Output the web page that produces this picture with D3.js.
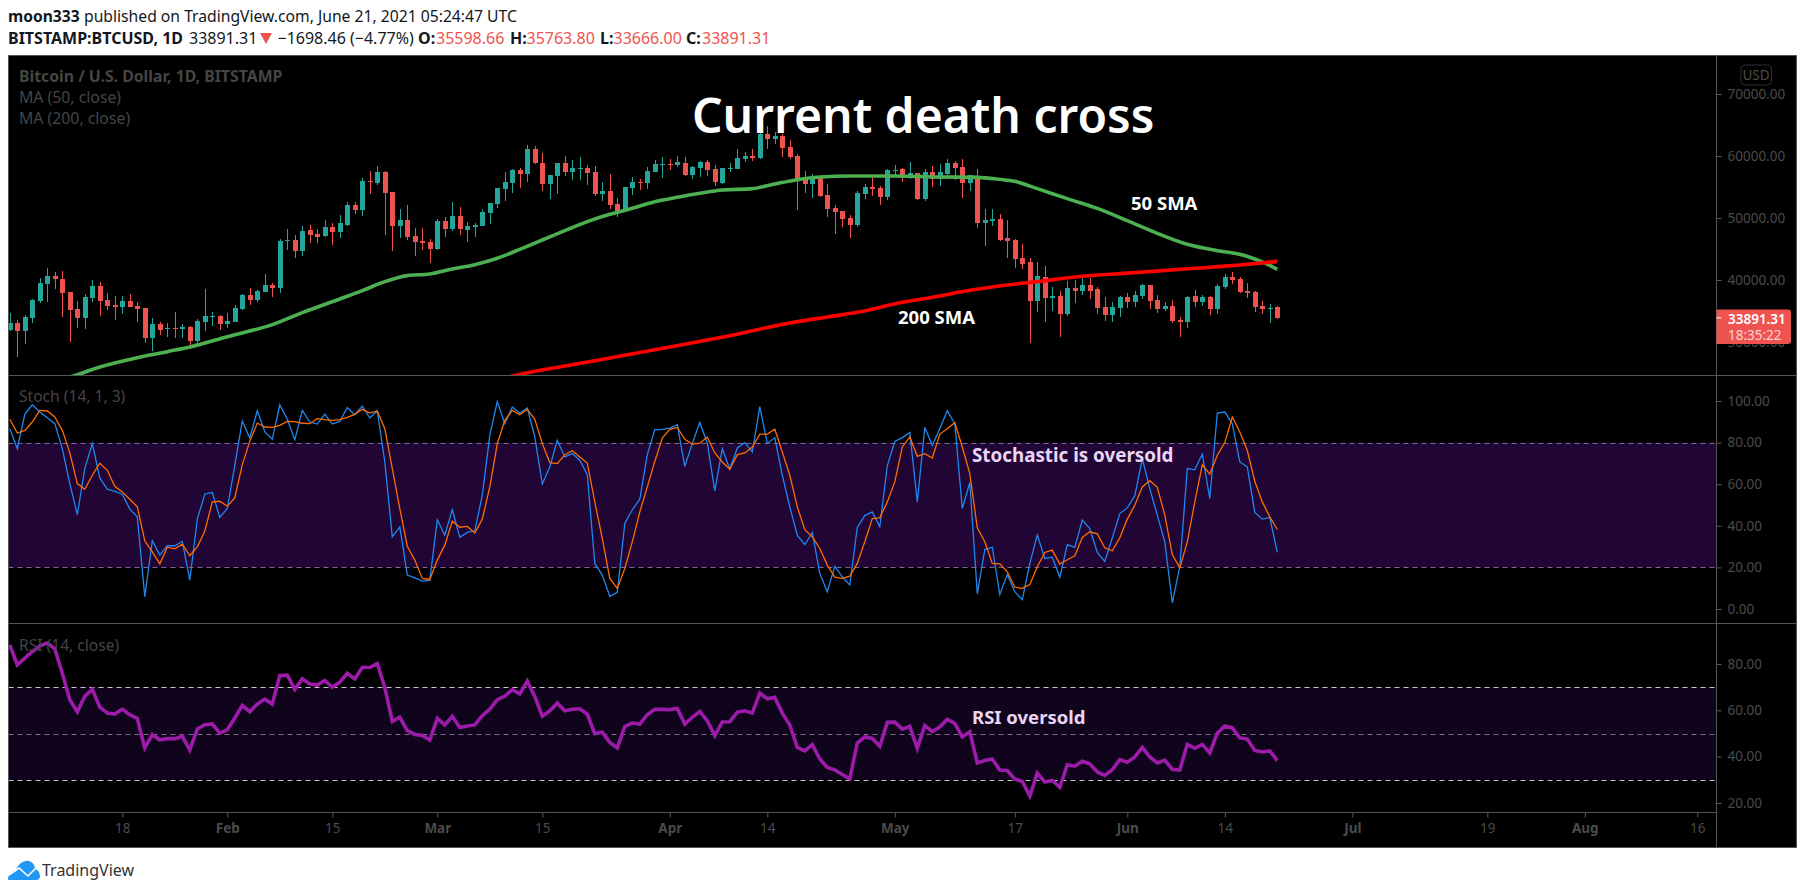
<!DOCTYPE html>
<html><head><meta charset="utf-8">
<script src="https://cdn.jsdelivr.net/npm/d3@7"></script>
<style>
html,body{margin:0;padding:0;background:#fff}
svg{display:block}
text{font-family:"Noto Sans",sans-serif}
.tick text{fill:#4b4b4b;font-size:13.5px;font-family:"Noto Sans",sans-serif}
.tick line{stroke:#5a5a5a}
.domain{display:none}
</style></head><body>
<svg id="c" width="1805" height="894"></svg>
<script>
const firstDay = "2021-01-03";
const open = [31940,33120,31830,33930,36670,39360,40650,40110,38070,35270,33930,37150,39030,36780,35970,35700,36560,35810,35490,30650,32910,32050,32260,32150,32370,30170,33280,34090,34200,32910,33230,35330,37530,36780,38070,39200,38710,46350,46450,44680,48070,47420,47100,48500,47740,48870,52100,51290,55970,55650,57420,54200,48710,49680,47100,46350,46130,45000,49520,
48170,50320,48070,48600,48710,50810,52260,54680,55650,57740,57100,61130,58870,55480,56780,58870,57420,57900,58070,57420,53870,54360,52260,51130,54840,55810,55650,57420,58550,58710,58550,58870,56940,58070,59030,57900,55650,57900,57900,59520,60000,59680,63550,62740,63230,61450,60000,56290,55480,56450,53710,51610,51130,50000,48870,53870,55000,54840,53390,57580,
57900,56450,57260,53070,57420,56290,57100,58870,58230,55650,56780,49200,49570,49840,46780,46450,43550,42900,36620,40490,37100,37420,34520,38710,38230,39200,38550,35650,34360,35490,37260,36450,37420,39200,36780,35320,35810,33550,33230,37420,36450,37260,35320,38870,40490,40160,38170,38070,35810,35380,35598.66];
const high = [34630,33550,34360,36880,40270,41990,41350,41510,38120,36620,37750,40000,39630,37850,37480,37420,37750,36400,35490,33870,33280,33120,34840,32910,32580,33710,38550,34790,34360,34630,35970,37750,38660,38390,40970,39470,46620,48280,47260,48710,48870,48170,49680,49140,50490,52580,52640,56400,57580,58390,57580,54200,51450,52100,48340,48390,46620,49840,50220,
52580,51780,49360,49200,51400,52420,54840,57420,57900,58070,61770,61610,60480,56940,58870,60000,59360,59840,58550,58390,55810,57100,53230,55000,56610,56290,58280,59300,59840,59520,60000,59840,58390,59190,59360,58550,58070,58820,61130,60650,61130,64190,64840,63870,63550,62580,60320,57580,57100,56780,55480,52100,51130,50490,54360,55480,56450,55160,57900,58550,
58010,59030,57310,57900,58390,58710,59520,59190,59520,56940,57900,51450,51450,50650,49680,46610,45810,43550,42900,42260,38870,38230,39840,40000,40810,40320,38870,37260,36450,37420,37910,38230,39360,39200,37580,36450,36780,34030,37420,38390,37580,37420,39360,40970,41290,40490,39520,38230,36620,36130,35763.80];
const low = [31830,27640,29680,33120,36240,36510,38610,34090,30060,32260,32100,36510,34250,35160,33550,34520,35700,33280,29900,28550,31130,30860,30600,30600,28870,29790,31830,32580,31940,32210,33230,35160,35970,36510,38070,37320,37960,44840,43610,43930,46020,46020,46880,45650,46830,48770,50650,50330,53870,55320,47260,44730,46780,46450,43870,44840,42800,44840,46880,
47960,47260,46130,46940,48710,49030,51610,52740,54030,54840,55810,58710,54360,53070,53870,56780,56130,56130,55320,53550,52740,51450,50220,50970,53710,54520,54680,57420,56450,57740,58230,56780,56290,56610,56780,55160,55480,57420,57900,59030,59190,59520,61130,61940,59840,59520,51290,54030,53230,53390,50160,47420,48550,46780,48550,53070,53550,52100,52900,56940,
55810,56290,52900,52740,55000,55160,56940,56130,53230,54360,48390,45490,48710,46290,43550,41940,41780,29840,34840,33230,35000,30810,34200,36290,37580,36940,34520,33390,33230,34030,35490,35650,36940,35320,34680,35000,33070,30810,32260,35650,35810,34360,34520,38550,39360,37910,37100,34840,34520,33070,33666.00];
const close = [33120,31830,34090,36780,39470,40650,40110,37960,35160,33870,37210,39030,36620,35810,35700,36560,35700,35330,30650,32910,31940,32260,32050,32370,30170,33390,34200,34250,32910,33390,35490,37640,36780,38180,39200,38710,46290,46450,44680,47850,47260,46940,48500,47740,49140,52100,51290,56020,55810,57420,54090,48710,49680,46940,46130,46020,45000,49520,48280,
50320,48230,48760,48870,50970,52420,54840,55810,57740,57100,61130,58870,55480,56940,58870,57420,58070,58070,57260,53870,54360,52100,51130,55000,55810,55650,57580,58710,58710,58550,59030,56940,58230,59030,57740,55810,58070,58070,59680,60000,59680,63600,62740,63230,61290,59840,56130,55480,56450,53550,51450,50970,49840,48870,54030,55000,54680,53390,57740,57740,
56450,57260,53070,57420,56350,57420,58870,58070,55650,56940,49200,49680,49840,46450,46290,43390,42580,36620,40650,37100,37420,34520,38710,38230,39200,38230,35490,34360,35650,37260,36450,37580,39200,36620,35320,35810,33390,33230,37260,36450,37260,35320,39030,40490,40000,38070,37910,35650,35320,35490,33891.31];
const ma50Days = [8,9,12,17,21,24,29,35,39,44,47,50,53,56,59,62,65,68,71,74,77,80,83,86,89,92,95,99,102,105,108,112,118,124,129,132,134,137,141,145,149,153,157,161,164,166,168,169];
const ma50 = [24360,24735,25971,27477,28444,29196,30863,32798,34734,36938,38282,39733,40701,40970,41776,42475,43496,44948,46453,47958,49410,50592,51560,52636,53334,53979,54517,54732,55484,56183,56613,56775,56775,56613,56560,56237,55914,54732,53119,51560,49571,47528,45753,44732,44141,43388,42367,41722];
const ma200Days = [66,67,74,82,90,96,104,109,113,119,123,128,133,137,142,150,158,163,169];
const ma200 = [24200,24519,26131,27851,29626,31024,33067,34034,34786,36400,37206,38335,39195,39733,40485,41184,41883,42313,43012];
const stochK = [86.7,77.1,93.6,98.2,94.7,92.0,89.1,77.1,60.3,45.4,67.5,79.5,63.0,57.6,56.5,55.2,48.0,44.3,5.9,32.9,25.9,30.5,30.4,32.5,13.9,43.2,55.3,56.0,44.0,48.3,69.1,90.4,82.2,95.3,85.1,81.6,98.2,91.2,81.3,95.5,89.9,88.9,93.7,88.9,90.2,96.9,93.4,97.6,91.8,95.3,70.7,34.7,39.5,16.3,15.0,13.4,13.9,42.9,35.5,
47.8,34.5,36.8,37.6,54.7,83.5,99.8,89.1,97.1,94.1,96.6,82.7,60.1,68.3,81.1,73.1,74.7,71.5,64.6,21.9,16.3,6.1,8.0,41.1,47.7,52.8,74.2,86.2,86.4,87.0,88.6,68.6,79.5,89.7,79.7,56.8,77.1,67.2,77.4,80.0,75.5,97.3,79.5,82.4,64.3,49.1,35.5,30.9,36.8,17.1,8.3,20.5,15.5,11.5,39.2,44.9,46.7,39.5,68.8,80.6,
82.4,84.9,51.5,87.3,78.7,86.7,95.3,89.1,48.3,60.8,7.3,28.6,29.7,7.0,16.6,8.3,4.5,21.9,35.5,24.3,24.9,15.3,31.0,29.6,42.7,38.7,27.2,22.9,34.2,45.9,48.6,54.4,72.3,57.9,45.1,32.3,3.0,20.3,67.5,66.9,74.5,53.1,94.2,94.7,89.1,70.7,68.3,46.4,43.2,44.0,27.2];
const stochD = [91.2,84.6,85.9,89.9,95.5,95.2,92.3,85.9,75.2,60.3,57.6,64.3,70.1,66.7,59.0,56.3,52.8,49.1,32.8,27.5,21.7,29.7,28.9,31.2,25.6,29.9,37.4,51.5,51.8,49.4,53.4,69.4,80.6,89.4,87.5,87.3,88.3,90.2,90.1,89.3,89.1,91.5,91.0,90.7,91.0,92.1,93.6,96.0,94.2,95.2,86.7,67.5,48.3,30.2,23.5,14.7,14.2,23.5,30.7,
42.2,39.3,39.7,36.6,43.2,58.7,79.5,90.7,95.5,93.4,96.0,91.2,79.5,70.4,69.9,74.2,76.1,73.1,70.2,51.5,33.9,14.7,9.9,19.5,32.3,46.7,58.7,71.0,82.2,86.4,87.3,81.6,79.3,79.7,82.7,75.0,70.7,67.2,74.2,75.0,77.9,84.1,84.1,86.4,75.5,64.3,49.1,38.1,34.7,29.1,21.1,15.3,14.7,15.8,21.9,32.3,43.5,43.8,51.5,61.1,
77.9,82.7,73.4,74.7,72.6,84.1,86.7,89.6,77.9,65.1,39.0,32.3,21.9,21.7,17.9,10.5,9.9,11.8,20.3,27.2,28.3,21.6,23.7,25.6,34.4,37.1,36.1,29.4,28.0,34.2,43.2,49.9,58.7,61.7,58.5,45.1,26.2,19.8,32.3,51.5,69.4,64.8,73.9,80.0,92.3,85.1,76.3,61.4,51.5,44.3,38.2];
const rsi = [88.2,79.6,82.5,85.3,87.8,89.0,86.5,76.0,64.6,59.4,66.0,69.1,61.4,58.8,58.4,60.5,58.1,56.5,43.8,49.5,47.3,47.8,47.8,48.8,42.8,52.0,53.8,54.1,50.2,51.6,56.7,62.1,59.4,62.7,64.8,62.7,75.0,75.2,69.1,73.6,71.4,70.9,72.9,70.0,72.2,76.0,73.6,78.6,78.5,80.2,69.9,55.2,57.0,51.2,49.6,49.2,47.2,56.5,53.7,
57.4,52.6,53.2,53.7,57.7,60.5,64.6,66.1,68.9,67.1,72.6,66.0,57.5,59.8,63.1,59.8,60.5,60.7,58.4,49.9,50.6,46.1,43.8,53.0,54.5,54.1,58.1,60.4,60.4,60.3,60.8,54.1,57.0,59.5,55.5,49.1,55.0,55.1,59.2,59.8,58.8,67.4,65.0,65.6,58.8,53.7,44.0,42.5,45.2,39.0,35.3,34.3,32.3,30.4,45.9,48.5,47.9,44.5,54.8,54.9,
51.9,53.1,43.6,53.4,50.8,52.8,56.2,54.4,48.5,50.8,37.3,38.3,39.0,34.2,34.0,30.3,29.3,23.0,32.9,29.1,29.7,26.8,36.5,35.9,38.0,36.9,33.4,31.9,34.4,38.7,37.6,39.9,44.0,39.9,37.3,38.5,34.6,34.2,45.3,43.6,45.3,41.6,50.2,53.2,52.4,48.1,47.6,42.7,42.0,42.5,38.3];
const priceTicks = [70000,60000,50000,40000,30000];
const stochTicks = [100,80,60,40,20,0];
const rsiTicks = [80,60,40,20];
const stochLevels = [80,20];
const rsiLevels = [70,50,30];
const timeLabels = [["2021-01-18","18",0],["2021-02-01","Feb",1],["2021-02-15","15",0],["2021-03-01","Mar",1],["2021-03-15","15",0],["2021-04-01","Apr",1],["2021-04-14","14",0],["2021-05-01","May",1],["2021-05-17","17",0],["2021-06-01","Jun",1],["2021-06-14","14",0],["2021-07-01","Jul",1],["2021-07-19","19",0],["2021-08-01","Aug",1],["2021-08-16","16",0]];

const svg = d3.select("#c");
const L=8.5,R=1796.5,AX=1716.5,T=55.5,B=847.5,P1=375.5,P2=623.5,P3=812.5;
const parse=d3.utcParse("%Y-%m-%d");
const day0=parse(firstDay);
const dayOf=i=>d3.utcDay.offset(day0,i);
const x=d3.scaleUtc().domain([parse("2021-01-18"),parse("2021-08-16")]).range([122.3,1697.3]);
const yP=d3.scaleLinear().domain([30000,70000]).range([342,94]);
const yS=d3.scaleLinear().domain([0,100]).range([609,401]);
const yR=d3.scaleLinear().domain([20,80]).range([803,664]);
const ix=i=>Math.round(x(dayOf(i)));
const defs=svg.append("defs");
[["p1",T,P1],["p2",P1,P2],["p3",P2,P3]].forEach(([id,a,b])=>defs.append("clipPath").attr("id",id).append("rect").attr("x",L).attr("y",a).attr("width",AX-L).attr("height",b-a));
svg.append("rect").attr("x",L).attr("y",T).attr("width",R-L).attr("height",B-T).attr("fill","#000");

// bands
svg.append("rect").attr("x",L).attr("width",AX-L).attr("y",yS(80)).attr("height",yS(20)-yS(80)).attr("fill","#200535");
svg.append("rect").attr("x",L).attr("width",AX-L).attr("y",yR(70)).attr("height",yR(30)-yR(70)).attr("fill","#10041c");
stochLevels.forEach(v=>svg.append("line").attr("x1",L).attr("x2",AX).attr("y1",Math.round(yS(v))+.5).attr("y2",Math.round(yS(v))+.5).attr("stroke","#7d6a88").attr("stroke-dasharray","5 4"));
rsiLevels.forEach(v=>svg.append("line").attr("x1",L).attr("x2",AX).attr("y1",Math.round(yR(v))+.5).attr("y2",Math.round(yR(v))+.5).attr("stroke",v==50?"#7d6a88":"#c9c5cc").attr("stroke-dasharray","5 4"));

// candles
const days=d3.range(open.length);
const up="#26a69a",dn="#ef5350";
const gC=svg.append("g").attr("clip-path","url(#p1)").attr("shape-rendering","crispEdges");
const col=i=>close[i]>=open[i]?up:dn;
gC.selectAll("line").data(days).join("line").attr("x1",i=>ix(i)+.5).attr("x2",i=>ix(i)+.5).attr("y1",i=>yP(high[i])).attr("y2",i=>yP(low[i])).attr("stroke",col);
gC.selectAll("rect").data(days).join("rect").attr("x",i=>ix(i)-2).attr("width",5)
 .attr("y",i=>yP(Math.max(open[i],close[i]))).attr("height",i=>Math.max(1,Math.abs(yP(open[i])-yP(close[i])))).attr("fill",col);

// moving averages
const lineOf=(days,vals,y,curve)=>d3.line().x((d,i)=>x(dayOf(days?days[i]:i))).y(d=>y(d)).curve(curve)(vals);
const gM=svg.append("g").attr("clip-path","url(#p1)").attr("fill","none");
gM.append("path").attr("d",lineOf(ma50Days,ma50,yP,d3.curveMonotoneX)).attr("stroke","#4caf50").attr("stroke-width",3.6);
gM.append("path").attr("d",lineOf(ma200Days,ma200,yP,d3.curveMonotoneX)).attr("stroke","#ff0000").attr("stroke-width",3.6);

// stoch
const gS=svg.append("g").attr("clip-path","url(#p2)").attr("fill","none").attr("stroke-linejoin","miter");
gS.append("path").attr("d",lineOf(null,stochK,yS,d3.curveLinear)).attr("stroke","#1e88f0").attr("stroke-width",1.3);
gS.append("path").attr("d",lineOf(null,stochD,yS,d3.curveLinear)).attr("stroke","#ff6d00").attr("stroke-width",1.3);
// rsi
svg.append("g").attr("clip-path","url(#p3)").append("path").attr("d",lineOf(null,rsi,yR,d3.curveLinear)).attr("fill","none").attr("stroke","#9c1ba8").attr("stroke-width",3.6);

// axes
const axis=(scale,vals)=>{svg.append("g").attr("transform",`translate(${AX},0)`).call(d3.axisRight(scale).tickValues(vals).tickSize(5).tickPadding(6).tickFormat(d3.format(".2f")));};
axis(yP,priceTicks);axis(yS,stochTicks);axis(yR,rsiTicks);
const tm=new Map(timeLabels.map(d=>[+parse(d[0]),d]));
const gx=svg.append("g").attr("transform",`translate(0,${P3})`).call(d3.axisBottom(x).tickValues(timeLabels.map(d=>parse(d[0]))).tickSize(5).tickPadding(6).tickFormat(d=>tm.get(+d)[1]));
gx.selectAll("text").style("font-weight",d=>tm.get(+d)[2]?700:400);

// frame
const bc="#555";
[[L,T,R,T],[L,B,R,B],[L,T,L,B],[R,T,R,B],[AX,T,AX,B],[L,P1,R,P1],[L,P2,R,P2],[L,P3,AX,P3]].forEach(a=>svg.append("line").attr("x1",a[0]).attr("y1",a[1]).attr("x2",a[2]).attr("y2",a[3]).attr("stroke",bc).attr("stroke-width",1));

// last price label
svg.append("path").attr("d","M1716.5 309.5H1788a3 3 0 0 1 3 3V341a3 3 0 0 1 -3 3H1716.5Z").attr("fill","#ef5350");
svg.append("line").attr("x1",AX).attr("x2",AX+5).attr("y1",yP(close[169])).attr("y2",yP(close[169])).attr("stroke","#fff");
const tx=(s,xx,y,size,fill,w,anchor)=>svg.append("text").attr("x",xx).attr("y",y).attr("font-size",size).attr("fill",fill).attr("font-weight",w||400).attr("text-anchor",anchor||"start").text(s);
tx("33891.31",1728,324,13.5,"#fff",600);
tx("18:35:22",1728,340,13.5,"#fbd3d2",400);
svg.append("rect").attr("x",1741).attr("y",65).attr("width",30.5).attr("height",20).attr("rx",4).attr("fill","none").attr("stroke","#2a2e39");
tx("USD",1756,80,13.5,"#4b4b4b",400,"middle");

// pane legends
tx("Bitcoin / U.S. Dollar, 1D, BITSTAMP",19,82,15.8,"#454545",700);
tx("MA (50, close)",19,103,15.8,"#454545");
tx("MA (200, close)",19,124,15.8,"#454545");
tx("Stoch (14, 1, 3)",19,402,15.6,"#454545");
tx("RSI (14, close)",19,651,15.6,"#454545");

// annotations
tx("Current death cross",692,133,48,"#fff",600);
tx("50 SMA",1131,210,18.5,"#fff",700);
tx("200 SMA",898,324,18.5,"#fff",700);
tx("Stochastic is oversold",972,462,18.8,"#ead5f5",700);
tx("RSI oversold",972,724,18.5,"#ead5f5",700);

// header
tx("moon333",8,22,15.6,"#131722",700);
tx("published on TradingView.com, June 21, 2021 05:24:47 UTC",84,22,15.7,"#131722");
tx("BITSTAMP:BTCUSD, 1D",8,44,16,"#131722",700);
tx("33891.31",189,44,16,"#131722");
svg.append("path").attr("d","M260 33H272L266 44Z").attr("fill","#ef5350");
tx("−1698.46 (−4.77%)",277.5,44,16,"#131722");
[["O:","35598.66",418,436],["H:","35763.80",510,526.5],["L:","33666.00",600,613.5],["C:","33891.31",686,702]].forEach(([a,b,xa,xb])=>{
  tx(a,xa,44,16,"#131722",700);
  tx(b,xb,44,16,"#ef5350");
});

// logo
const lg=svg.append("g");
lg.append("path").attr("d","M8 880 C8 874 12 871 16 870 C18 864 24 860 29 861 C33 862 35 866 35 869 C39 870 40 874 40 876 C40 879 38 880 36 880 Z").attr("fill","#2196f3");
lg.append("path").attr("d","M9 875 L19 868 L28 876 L36 868").attr("fill","none").attr("stroke","#fff").attr("stroke-width",1.6);
tx("TradingView",42,876,16,"#333");
</script>
</body></html>
